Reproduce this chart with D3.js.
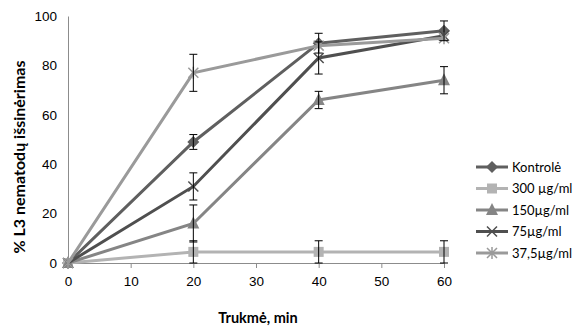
<!DOCTYPE html>
<html>
<head>
<meta charset="utf-8">
<script src="https://cdn.jsdelivr.net/npm/d3@7"></script>
<style>
  body { margin: 0; background: #fff; }
  svg { display: block; font-family: Lato, "Open Sans", sans-serif; }
</style>
</head>
<body>
<svg id="chart" width="582" height="328"></svg>
<script>
// Time points (min)
const times = [0, 20, 40, 60];
const xTicks = [0, 10, 20, 30, 40, 50, 60];
const yTicks = [0, 20, 40, 60, 80, 100];

// Series names shown in the legend
const seriesNames = ["Kontrolė", "300 µg/ml", "150µg/ml", "75µg/ml", "37,5µg/ml"];

// Mean hatching (%) per time point
const kontrole = [0, 49, 89, 94];
const c300 = [0, 4.5, 4.5, 4.5];
const c150 = [0, 16, 66, 74];
const c75 = [0, 31, 83, 92];
const c37 = [0, 77, 88, 91];

// Error (± %) per time point
const kontroleErr = [0, 3, 4, 4];
const c300Err = [0, 4.5, 4.5, 4.5];
const c150Err = [0, 7.5, 3.5, 5.5];
const c75Err = [0, 5.5, 6.5, 0];
const c37Err = [0, 7.5, 0, 0];

const seriesValues = [kontrole, c300, c150, c75, c37];
const seriesErrors = [kontroleErr, c300Err, c150Err, c75Err, c37Err];
const colors = ["#5f5f5f", "#b3b3b3", "#858585", "#4f4f4f", "#9a9a9a"];
const markers = ["diamond", "square", "triangle", "x", "star"];

const svg = d3.select("#chart");
const x = d3.scaleLinear().domain([0, 60]).range([68, 444]);
const y = d3.scaleLinear().domain([0, 100]).range([263, 16]);

// Axes
const xAxis = svg.append("g").attr("transform", `translate(0,${y(0)})`)
  .call(d3.axisBottom(x).tickValues(xTicks).tickSize(5).tickPadding(8));
xAxis.select(".domain").attr("stroke", "#8c8c8c");
xAxis.selectAll(".tick line").attr("stroke", "#8c8c8c");
xAxis.selectAll("text").attr("font-size", 13.5).attr("fill", "#000");

const yAxis = svg.append("g").attr("transform", `translate(${x(0)},0)`)
  .call(d3.axisLeft(y).tickValues(yTicks).tickSize(0).tickPadding(11));
yAxis.select(".domain").attr("stroke", "#8c8c8c");
yAxis.selectAll("text").attr("font-size", 13.5).attr("fill", "#000");

// Axis titles
svg.append("text").attr("x", 258).attr("y", 323)
  .attr("text-anchor", "middle").attr("font-size", 14.5).attr("font-weight", "bold")
  .text("Trukmė, min");
svg.append("text").attr("transform", `translate(25,157) rotate(-90)`)
  .attr("text-anchor", "middle").attr("font-size", 16).attr("font-weight", "bold")
  .text("% L3 nematodų išsinėrimas");

function drawMarker(g, type, cx, cy, color) {
  if (type === "diamond") {
    g.append("path").attr("d", `M${cx},${cy - 6}L${cx + 6},${cy}L${cx},${cy + 6}L${cx - 6},${cy}Z`).attr("fill", color);
  } else if (type === "square") {
    g.append("rect").attr("x", cx - 5).attr("y", cy - 5).attr("width", 10).attr("height", 10).attr("fill", color);
  } else if (type === "triangle") {
    g.append("path").attr("d", `M${cx},${cy - 7}L${cx + 6},${cy + 5}L${cx - 6},${cy + 5}Z`).attr("fill", color);
  } else if (type === "x") {
    g.append("path").attr("d", `M${cx - 5},${cy - 5}L${cx + 5},${cy + 5}M${cx - 5},${cy + 5}L${cx + 5},${cy - 5}`)
      .attr("stroke", color).attr("stroke-width", 1.5);
  } else if (type === "star") {
    g.append("path").attr("d", `M${cx - 5},${cy - 5}L${cx + 5},${cy + 5}M${cx - 5},${cy + 5}L${cx + 5},${cy - 5}M${cx},${cy - 6}L${cx},${cy + 6}`)
      .attr("stroke", color).attr("stroke-width", 1.5);
  }
}

const line = d3.line().x((d, i) => x(times[i])).y(d => y(d));

seriesValues.forEach((vals, s) => {
  const g = svg.append("g");
  g.append("path").datum(vals).attr("d", line).attr("fill", "none")
    .attr("stroke", colors[s]).attr("stroke-width", 3);
  vals.forEach((v, i) => drawMarker(g, markers[s], x(times[i]), y(v), colors[s]));
});

// Error bars
seriesValues.forEach((vals, s) => {
  const g = svg.append("g").attr("stroke", "#000").attr("stroke-width", 1);
  vals.forEach((v, i) => {
    const e = seriesErrors[s][i];
    if (!e) return;
    const cx = x(times[i]);
    g.append("line").attr("x1", cx).attr("x2", cx).attr("y1", y(v + e)).attr("y2", y(v - e));
    g.append("line").attr("x1", cx - 4).attr("x2", cx + 4).attr("y1", y(v + e)).attr("y2", y(v + e));
    g.append("line").attr("x1", cx - 4).attr("x2", cx + 4).attr("y1", y(v - e)).attr("y2", y(v - e));
  });
});

// Legend
const legend = svg.append("g");
seriesNames.forEach((name, s) => {
  const ly = 167 + s * 21.5;
  legend.append("line").attr("x1", 476).attr("x2", 508).attr("y1", ly).attr("y2", ly)
    .attr("stroke", colors[s]).attr("stroke-width", 3);
  drawMarker(legend, markers[s], 492, ly, colors[s]);
  legend.append("text").attr("x", 512).attr("y", ly).attr("dy", "0.35em")
    .attr("font-size", 13).text(name);
});
</script>
</body>
</html>
